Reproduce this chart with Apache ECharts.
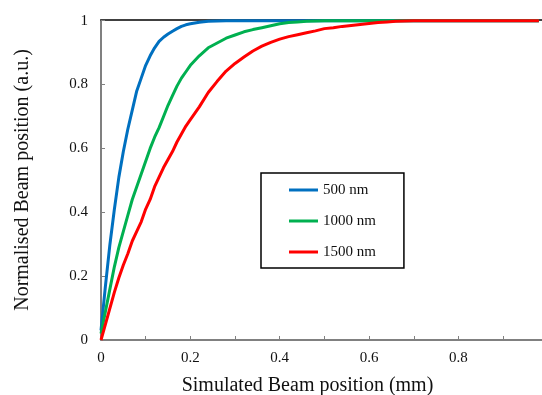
<!DOCTYPE html>
<html>
<head>
<meta charset="utf-8">
<script src="https://cdn.jsdelivr.net/npm/echarts@6/dist/echarts.min.js"></script>
<style>
  html, body { margin: 0; padding: 0; background: #fff; }
  #chart { width: 542px; height: 395px; }
</style>
</head>
<body>
<div id="chart"></div>
<script>
const seriesNames = ["500 nm", "1000 nm", "1500 nm"];

const blueX = [0, 0.01, 0.02, 0.03, 0.04, 0.05, 0.06, 0.07, 0.08, 0.09, 0.10, 0.11, 0.12, 0.13, 0.14, 0.15, 0.16, 0.17, 0.18, 0.19, 0.20, 0.22, 0.24, 0.26, 0.28, 0.40, 0.60, 0.80, 0.98];
const blueY = [0.03, 0.17, 0.30, 0.41, 0.51, 0.59, 0.66, 0.72, 0.78, 0.82, 0.86, 0.89, 0.915, 0.935, 0.948, 0.958, 0.967, 0.975, 0.982, 0.987, 0.99, 0.995, 0.998, 0.999, 1, 1, 1, 1, 1];

const greenX = [0, 0.01, 0.02, 0.03, 0.04, 0.05, 0.06, 0.07, 0.08, 0.09, 0.10, 0.11, 0.12, 0.13, 0.14, 0.15, 0.16, 0.17, 0.18, 0.19, 0.20, 0.22, 0.24, 0.26, 0.28, 0.30, 0.32, 0.34, 0.36, 0.38, 0.40, 0.42, 0.44, 0.46, 0.48, 0.50, 0.60, 0.80, 0.98];
const greenY = [0.02, 0.09, 0.16, 0.23, 0.29, 0.34, 0.39, 0.44, 0.48, 0.52, 0.56, 0.60, 0.635, 0.665, 0.70, 0.735, 0.765, 0.795, 0.82, 0.84, 0.86, 0.89, 0.915, 0.93, 0.945, 0.955, 0.965, 0.972, 0.978, 0.984, 0.99, 0.994, 0.996, 0.998, 0.999, 1, 1, 1, 1];

const redX = [0, 0.01, 0.02, 0.03, 0.04, 0.05, 0.06, 0.07, 0.08, 0.09, 0.10, 0.11, 0.12, 0.13, 0.14, 0.15, 0.16, 0.17, 0.18, 0.19, 0.20, 0.22, 0.24, 0.26, 0.28, 0.30, 0.32, 0.34, 0.36, 0.38, 0.40, 0.42, 0.44, 0.46, 0.48, 0.50, 0.52, 0.54, 0.56, 0.58, 0.60, 0.62, 0.64, 0.66, 0.68, 0.70, 0.80, 0.90, 0.98];
const redY = [0, 0.05, 0.10, 0.15, 0.195, 0.235, 0.27, 0.31, 0.34, 0.37, 0.41, 0.44, 0.48, 0.51, 0.54, 0.565, 0.59, 0.62, 0.645, 0.67, 0.69, 0.73, 0.775, 0.81, 0.842, 0.866, 0.886, 0.905, 0.92, 0.932, 0.942, 0.95, 0.956, 0.962, 0.968, 0.975, 0.978, 0.982, 0.985, 0.988, 0.991, 0.994, 0.996, 0.998, 0.999, 1, 1, 1, 1];

const colors = ["#0070C0", "#00B050", "#FF0000"];
const serif = "'Liberation Serif', 'Times New Roman', serif";

const zip = (xs, ys) => xs.map((x, i) => [x, ys[i]]);
const curves = [zip(blueX, blueY), zip(greenX, greenY), zip(redX, redY)];

const chart = echarts.init(document.getElementById("chart"));

const option = {
    animation: false,
    textStyle: { fontFamily: serif },
    grid: { left: 101, right: 0, top: 20, bottom: 55, outerBoundsMode: "none" },
    legend: {
        orient: "vertical",
        left: 261,
        top: 173,
        padding: [9, 28, 8, 28],
        borderColor: "#000",
        borderWidth: 1.5,
        itemWidth: 29,
        itemHeight: 3,
        itemGap: 15,
        itemTextGap: 3,
        icon: "rect",
        textStyle: { fontFamily: serif, fontSize: 15, color: "#111", lineHeight: 16 },
        data: seriesNames,
    },
    xAxis: [
        {
            type: "value",
            min: 0,
            max: 0.987,
            interval: 0.1,
            name: "Simulated Beam position (mm)",
            nameLocation: "middle",
            nameGap: 36,
            nameTextStyle: { fontFamily: serif, fontSize: 20, color: "#111", padding: [0, 28, 0, 0] },
            axisLine: { lineStyle: { color: "#808080", width: 2 } },
            axisTick: { inside: true, length: 4, lineStyle: { color: "#808080", width: 1 } },
            axisLabel: {
                showMaxLabel: false,
                margin: 11,
                fontFamily: serif,
                fontSize: 15,
                color: "#111",
                formatter: (v) => (Math.round(v * 10) % 2 === 0 ? String(Math.round(v * 10) / 10) : ""),
            },
            splitLine: { show: false },
        },
        // plain dark line along the top edge, drawn beneath the curves
        {
            type: "value",
            position: "top",
            min: 0,
            max: 0.987,
            z: 0,
            axisLine: { show: true, lineStyle: { color: "#404040", width: 2 } },
            axisTick: { show: false },
            axisLabel: { show: false },
            splitLine: { show: false },
        },
    ],
    yAxis: {
        type: "value",
        min: 0,
        max: 1.002,
        interval: 0.2,
        name: "Normalised Beam position (a.u.)",
        nameLocation: "middle",
        nameGap: 68,
        nameTextStyle: { fontFamily: serif, fontSize: 20, color: "#111" },
        axisLine: { show: true, lineStyle: { color: "#808080", width: 2 } },
        axisTick: { show: true, inside: true, length: 4, lineStyle: { color: "#808080", width: 1 } },
        axisLabel: {
            showMaxLabel: false,
            margin: 13,
            fontFamily: serif,
            fontSize: 15,
            color: "#111",
            formatter: (v) => String(Math.round(v * 10) / 10),
        },
        splitLine: { show: false },
    },
    series: seriesNames.map((name, i) => ({
        name,
        type: "line",
        zlevel: 1,
        z: 2 + i,
        data: curves[i],
        showSymbol: false,
        clip: false,
        color: colors[i],
        lineStyle: { color: colors[i], width: 3 },
    })),
};

chart.setOption(option);
</script>
</body>
</html>
